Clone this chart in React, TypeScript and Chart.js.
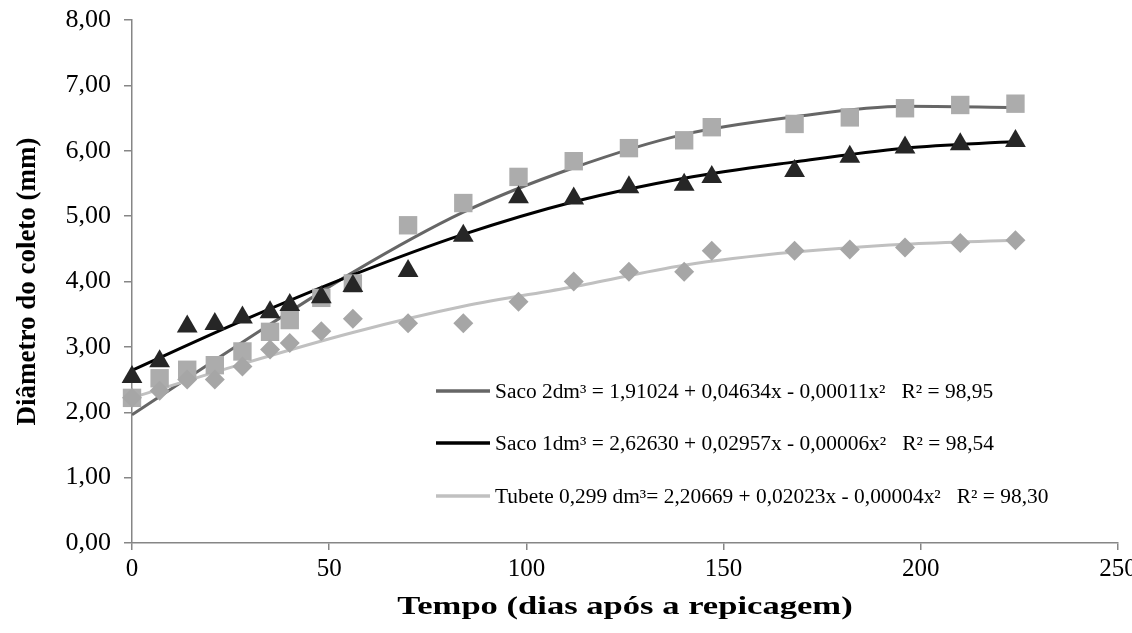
import React, { useEffect, useRef } from "react";
import { Chart, registerables } from "chart.js";
Chart.register(...registerables);

// Observed data (days after transplanting)
const obsDays = [0, 7, 14, 21, 28, 35, 40, 48, 56, 70, 84, 98, 112, 126, 140, 147, 168, 182, 196, 210, 224];
const saco2Obs = [2.22, 2.52, 2.65, 2.72, 2.93, 3.23, 3.41, 3.75, 3.97, 4.86, 5.2, 5.6, 5.84, 6.04, 6.16, 6.36, 6.41, 6.51, 6.65, 6.7, 6.72];
const saco1Obs = [2.54, 2.78, 3.31, 3.35, 3.45, 3.53, 3.64, 3.76, 3.93, 4.16, 4.7, 5.29, 5.27, 5.44, 5.48, 5.6, 5.69, 5.91, 6.05, 6.1, 6.15];
const tubeteObs = [2.22, 2.33, 2.5, 2.5, 2.7, 2.96, 3.06, 3.24, 3.43, 3.36, 3.36, 3.69, 4.0, 4.15, 4.15, 4.47, 4.47, 4.49, 4.52, 4.59, 4.63];

// Fitted curves
const curveDays = [0, 28, 56, 84, 112, 140, 168, 196, 224];
const saco2Fit = [1.96, 3.07, 4.14, 5.06, 5.74, 6.25, 6.52, 6.68, 6.66];
const saco1Fit = [2.64, 3.4, 4.1, 4.72, 5.22, 5.58, 5.83, 6.04, 6.14];
const tubeteFit = [2.22, 2.74, 3.22, 3.62, 3.92, 4.25, 4.45, 4.57, 4.63];

const legendLabels = [
  "Saco 2dm³ = 1,91024 + 0,04634x - 0,00011x²   R² = 98,95",
  "Saco 1dm³ = 2,62630 + 0,02957x - 0,00006x²   R² = 98,54",
  "Tubete 0,299 dm³= 2,20669 + 0,02023x - 0,00004x²   R² = 98,30",
];
const legendColors = ["#666666", "#000000", "#c0c0c0"];

const xTitle = "Tempo (dias após a repicagem)";
const yTitle = "Diâmetro do coleto (mm)";

const SERIF = '"Liberation Serif", "Times New Roman", serif';

const toPts = (xs: number[], ys: number[]) => xs.map((x, i) => ({ x, y: ys[i] }));

const textPlugin = {
  id: "eqLegendAndTitle",
  afterDatasetsDraw(chart: any) {
    const ctx = chart.ctx;
    const area = chart.chartArea;
    ctx.save();
    const rows = [391, 443, 496];
    ctx.textBaseline = "middle";
    ctx.textAlign = "left";
    legendLabels.forEach((t, i) => {
      ctx.strokeStyle = legendColors[i];
      ctx.lineWidth = 3.5;
      ctx.beginPath();
      ctx.moveTo(436, rows[i]);
      ctx.lineTo(490, rows[i]);
      ctx.stroke();
      ctx.save();
      ctx.translate(495, rows[i] + 2);
      ctx.scale(1.07, 1);
      ctx.font = `20px ${SERIF}`;
      ctx.fillStyle = "#000";
      ctx.fillText(t, 0, 0);
      ctx.restore();
    });
    // x-axis title (horizontally widened like the original)
    ctx.save();
    ctx.translate((area.left + area.right) / 2, 607);
    ctx.scale(1.33, 1);
    ctx.font = `bold 26px ${SERIF}`;
    ctx.textAlign = "center";
    ctx.fillStyle = "#000";
    ctx.fillText(xTitle, 0, 0);
    ctx.restore();
    ctx.restore();
  },
};

export default function App() {
  const ref = useRef<HTMLCanvasElement | null>(null);
  useEffect(() => {
    document.body.style.margin = "0";
    const axisColor = "#868686";
    const chart = new Chart(ref.current as HTMLCanvasElement, {
      type: "scatter",
      data: {
        datasets: [
          {
            label: "Tubete obs",
            data: toPts(obsDays, tubeteObs),
            pointStyle: "rectRot",
            pointRadius: 10,
            backgroundColor: "#a6a6a6",
            borderColor: "#a6a6a6",
            borderWidth: 0,
            showLine: false,
            clip: false,
            order: 1,
          },
          {
            label: "Saco 1 obs",
            data: toPts(obsDays, saco1Obs),
            pointStyle: "triangle",
            pointRadius: 12,
            backgroundColor: "#262626",
            borderColor: "#262626",
            borderWidth: 0,
            showLine: false,
            clip: false,
            order: 2,
          },
          {
            label: "Saco 2 obs",
            data: toPts(obsDays, saco2Obs),
            pointStyle: "rect",
            pointRadius: 13,
            backgroundColor: "#acacac",
            borderColor: "#acacac",
            borderWidth: 0,
            showLine: false,
            clip: false,
            order: 3,
          },
          {
            label: "Tubete fit",
            data: toPts(curveDays, tubeteFit),
            showLine: true,
            borderColor: "#c0c0c0",
            borderWidth: 3,
            pointRadius: 0,
            cubicInterpolationMode: "monotone",
            order: 4,
          },
          {
            label: "Saco 1 fit",
            data: toPts(curveDays, saco1Fit),
            showLine: true,
            borderColor: "#000000",
            borderWidth: 3,
            pointRadius: 0,
            cubicInterpolationMode: "monotone",
            order: 5,
          },
          {
            label: "Saco 2 fit",
            data: toPts(curveDays, saco2Fit),
            showLine: true,
            borderColor: "#666666",
            borderWidth: 3,
            pointRadius: 0,
            cubicInterpolationMode: "monotone",
            order: 6,
          },
        ],
      },
      options: {
        animation: false,
        responsive: false,
        maintainAspectRatio: false,
        layout: { padding: { top: 20, right: 14, left: 0, bottom: 0 } },
        plugins: {
          legend: { display: false },
          tooltip: { enabled: false },
        },
        scales: {
          x: {
            type: "linear",
            min: 0,
            max: 250,
            afterFit: (s: any) => {
              s.height = 90;
              s.paddingRight = 0;
              s.paddingLeft = 0;
            },
            ticks: {
              stepSize: 50,
              color: "#000",
              padding: 4,
              font: { family: SERIF, size: 25 },
              maxRotation: 0,
            },
            grid: {
              drawOnChartArea: false,
              drawTicks: true,
              tickLength: 7,
              color: axisColor,
              lineWidth: 1.5,
            },
            border: { display: true, color: axisColor, width: 1.5 },
            title: { display: false },
          },
          y: {
            min: 0,
            max: 8,
            afterFit: (s: any) => {
              s.width = 132;
              s.paddingTop = 0;
              s.paddingBottom = 0;
            },
            ticks: {
              stepSize: 1,
              color: "#000",
              padding: 13,
              font: { family: SERIF, size: 26 },
              callback: (v: any) => Number(v).toFixed(2).replace(".", ","),
            },
            grid: {
              drawOnChartArea: false,
              drawTicks: true,
              tickLength: 8,
              color: axisColor,
              lineWidth: 1.5,
            },
            border: { display: true, color: axisColor, width: 1.5 },
            title: {
              display: true,
              text: yTitle,
              color: "#000",
              font: { family: SERIF, size: 27, weight: "bold" },
              padding: { top: 12, bottom: 0 },
            },
          },
        },
      },
      plugins: [textPlugin],
    } as any);
    return () => chart.destroy();
  }, []);
  return (
    <div style={{ width: 1132, height: 633, background: "#fff" }}>
      <canvas ref={ref} width={1132} height={633} style={{ display: "block" }} />
    </div>
  );
}
